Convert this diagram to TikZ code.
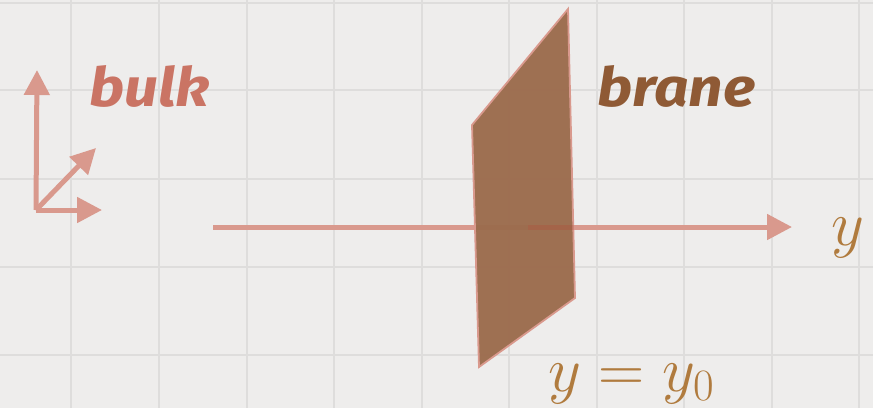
\RequirePackage{fix-cm}
\documentclass[tikz,border=0pt]{standalone}
\usepackage{fontspec}
\newfontfamily\labelfont[FakeStretch=1.12]{Fira Sans}
\usetikzlibrary{arrows.meta}
\definecolor{paper}{HTML}{EEEDEC}
\definecolor{gridc}{HTML}{DEDDDC}
\definecolor{salmon}{HTML}{D9998D}
\definecolor{bulkc}{HTML}{CA7464}
\definecolor{branefill}{HTML}{9C6C4E}
\definecolor{branec}{HTML}{8F5A35}
\definecolor{ylab}{HTML}{B07B3E}
\definecolor{deepred}{HTML}{B5503C}
\tikzset{
  axis/.style={draw=salmon, fill=salmon, line width=5pt, -{Triangle[length=25pt,width=25pt]}},
  plainline/.style={draw=salmon, line width=5pt},
  bigword/.style={font=\labelfont\bfseries\itshape\fontsize{54}{60}\selectfont, inner sep=0pt, anchor=base west},
  mathlab/.style={font=\fontsize{64}{70}\selectfont, inner sep=0pt, anchor=base west, text=ylab},
}
\begin{document}
\begin{tikzpicture}[x=1pt,y=-1pt]
\useasboundingbox (0,0) rectangle (873,408);
\fill[paper] (0,0) rectangle (873,408);
% grid
\foreach \gx in {71,159,247,334,422,509,597,684,772,859}
  \draw[gridc, line width=2pt] (\gx,0) -- (\gx,408);
\foreach \gy in {3,90,179,267,355}
  \draw[gridc, line width=2pt] (0,\gy) -- (873,\gy);
% axes icon
\coordinate (o) at (36,210);
\coordinate (up) at (37,70);
\coordinate (rt) at (102,210);
\coordinate (dg) at (96,148);
\draw[axis] (o) -- (up);
\draw[axis] (o) -- (rt);
\draw[axis] (o) -- (dg);
% labels
\node[bigword, text=bulkc] (bulk) at (89,106) {bulk};
\node[bigword, text=branec] (brane) at (597,106) {brane};
% y axis
\coordinate (ys) at (213,227);
\coordinate (ym) at (528,227);
\coordinate (ye) at (792,227);
\coordinate (yb) at (574,227);
\draw[plainline] (ys) -- (ym);
\draw[axis] (ym) -- (ye);
% brane
\filldraw[fill=branefill, fill opacity=0.97, draw=salmon, line width=1.8pt]
  (568,9) -- (472,125) -- (479,367) -- (575,298) -- cycle;
\draw[draw=deepred, draw opacity=0.3, line width=5pt] (ym) -- (yb);
\node[mathlab] (ylabel) at (831,245) {$y$};
\node[mathlab] (brpos) at (548,391) {$y=y_0$};
\end{tikzpicture}
\end{document}
